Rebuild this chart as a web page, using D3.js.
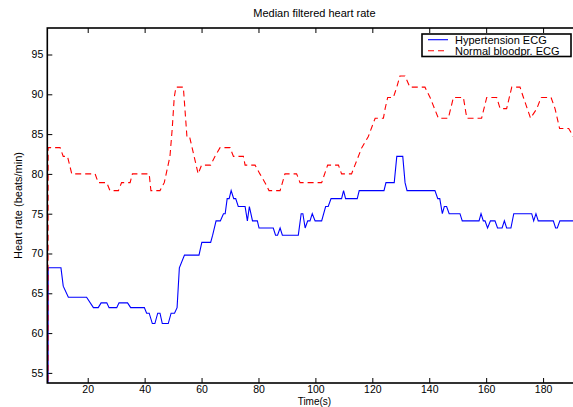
<!DOCTYPE html>
<html>
<head>
<meta charset="utf-8">
<script src="https://cdn.jsdelivr.net/npm/d3@7"></script>
<style>
  html, body { margin: 0; padding: 0; background: #fff; }
  svg { display: block; font-family: "Liberation Sans", Arial, Helvetica, sans-serif; }
</style>
</head>
<body>
<svg id="chart" width="573" height="407"></svg>
<script>
// Median filtered heart rate, two recordings (time in s, rate in beats/min)
const hyperTime = [5.9, 6.1, 10.6, 11.4, 13.2, 19.6, 22.0, 23.7, 24.7, 26.7, 27.5, 30.2, 31.0, 34.0, 35.1, 39.9,
  40.7, 41.6, 42.7, 43.6, 44.6, 45.4, 46.2, 48.3, 49.3, 50.5, 51.4, 52.2, 54.0, 59.1, 60.1, 63.2, 63.9, 65.1,
  66.6, 67.7, 68.3, 69.0, 69.7, 70.4, 71.3, 72.0, 72.9, 75.3, 76.1, 76.8, 77.9, 79.6, 80.2, 85.2, 86.0, 86.7,
  87.6, 88.4, 94.0, 95.0, 95.6, 96.4, 97.3, 98.1, 98.9, 99.9, 102.2, 103.6, 104.5, 105.5, 109.2, 109.9, 110.6,
  114.7, 115.4, 124.1, 124.8, 127.7, 128.6, 130.7, 131.5, 132.2, 142.0, 143.0, 143.7, 144.6, 145.3, 146.1,
  147.0, 150.8, 151.6, 157.5, 158.2, 159.0, 159.6, 160.5, 161.5, 163.1, 164.0, 165.6, 166.4, 167.2, 168.7,
  169.7, 176.0, 176.7, 177.5, 178.3, 183.6, 184.4, 185.0, 185.9, 193.5];
const hyperRate = [0, 68.2, 68.2, 65.9, 64.5, 64.5, 63.2, 63.2, 63.8, 63.8, 63.2, 63.2, 63.8, 63.8, 63.2, 63.2,
  62.5, 62.5, 61.2, 61.2, 62.5, 62.5, 61.2, 61.2, 62.5, 62.5, 63.2, 68.2, 69.8, 69.8, 71.4, 71.4, 72.3, 74.1,
  74.1, 75.0, 75.0, 76.9, 76.9, 77.9, 76.9, 76.9, 75.9, 75.9, 74.1, 75.9, 74.1, 74.1, 73.2, 73.2, 72.3, 72.3,
  73.2, 72.3, 72.3, 75.0, 75.0, 73.2, 74.1, 74.1, 75.0, 74.1, 74.1, 75.9, 75.9, 76.9, 76.9, 77.9, 76.9,
  76.9, 77.9, 77.9, 78.9, 78.9, 82.2, 82.2, 78.9, 77.9, 77.9, 76.9, 76.9, 75.0, 75.9, 75.9,
  75.0, 75.0, 74.1, 74.1, 75.0, 74.1, 74.1, 73.2, 74.1, 74.1, 73.2, 73.2, 74.1, 73.2, 73.2,
  75.0, 75.0, 74.1, 75.0, 74.1, 74.1, 73.2, 73.2, 74.1, 74.1];

const normalTime = [5.9, 6.1, 10.3, 11.4, 12.9, 14.4, 22.6, 23.7, 26.7, 27.8, 30.8, 31.9, 34.9, 35.7, 41.6, 42.2,
  45.4, 46.9, 48.9, 49.7, 50.4, 51.0, 53.6, 54.9, 55.9, 58.8, 60.0, 63.2, 64.7, 66.5, 70.0, 71.2, 74.7, 75.3,
  78.8, 80.5, 82.3, 83.7, 87.6, 89.3, 93.4, 94.6, 102.2, 104.3, 108.1, 109.2, 112.7, 113.9, 116.3, 118.6,
  121.0, 123.9, 124.5, 125.4, 127.4, 128.6, 129.7, 131.5, 133.2, 138.5, 140.3, 143.2, 146.7, 148.5, 152.0,
  153.2, 158.4, 160.2, 163.7, 164.9, 167.2, 169.0, 171.9, 173.1, 175.6, 177.8, 179.3, 182.8, 184.2, 185.8,
  189.0, 190.6, 193.5];
const normalRate = [0, 83.3, 83.3, 82.2, 82.2, 80.0, 80.0, 78.9, 78.9, 77.9, 77.9, 78.9, 78.9, 80.0, 80.0, 77.9,
  77.9, 78.9, 82.2, 85.7, 89.6, 90.9, 90.9, 84.5, 84.5, 80.0, 81.1, 81.1, 82.2, 83.3, 83.3, 82.2, 82.2, 81.1,
  81.1, 80.0, 78.9, 77.9, 77.9, 80.0, 80.0, 78.9, 78.9, 81.1, 81.1, 80.0, 80.0, 81.1, 83.3, 84.7,
  87.0, 87.0, 88.2, 89.6, 89.6, 90.9, 92.3, 92.3, 90.9, 90.9, 89.6, 87.0, 87.0, 89.6, 89.6,
  87.0, 87.0, 89.6, 89.6, 88.2, 88.2, 90.9, 90.9, 89.6, 87.0, 88.2, 89.6, 89.6, 88.2, 85.7,
  85.7, 84.7, 84.7];

const xTicks = [20, 40, 60, 80, 100, 120, 140, 160, 180];
const yTicks = [55, 60, 65, 70, 75, 80, 85, 90, 95];
const seriesNames = ["Hypertension ECG", "Normal bloodpr. ECG"];
const titleText = "Median filtered heart rate";
const xLabelText = "Time(s)";
const yLabelText = "Heart rate (beats/min)";

const svg = d3.select("#chart");
const plot = { left: 47.3, right: 581.5, top: 28, bottom: 383 };
const fontSize = 11;
const tickFont = 10.5;
const tickLen = 5;

const x = d3.scaleLinear().domain([5.8, 193.5]).range([plot.left, plot.right]);
const y = d3.scaleLinear().domain([53.73, 98.33]).range([plot.bottom, plot.top]);

svg.append("rect").attr("width", 573).attr("height", 407).attr("fill", "#fff");

svg.append("defs").append("clipPath").attr("id", "plotClip")
  .append("rect")
  .attr("x", plot.left).attr("y", plot.top)
  .attr("width", plot.right - plot.left).attr("height", plot.bottom - plot.top);

// Axes with inward ticks
const xAxis = d3.axisBottom(x).tickValues(xTicks).tickSizeInner(-tickLen).tickSizeOuter(0).tickPadding(2.5);
const yAxis = d3.axisLeft(y).tickValues(yTicks).tickSizeInner(-tickLen).tickSizeOuter(0).tickPadding(4);
const xAxisTop = d3.axisTop(x).tickValues(xTicks).tickSizeInner(-tickLen).tickSizeOuter(0).tickFormat("");
const yAxisRight = d3.axisRight(y).tickValues(yTicks).tickSizeInner(-tickLen).tickSizeOuter(0).tickFormat("");

function styleAxis(g) {
  g.select(".domain").remove();
  g.selectAll(".tick line").attr("stroke", "#000").attr("stroke-width", 1);
  g.selectAll(".tick text").attr("fill", "#000").style("font-size", tickFont + "px")
    .style("font-family", '"Liberation Sans", Arial, Helvetica, sans-serif');
}

svg.append("g").attr("transform", `translate(0,${plot.bottom})`).call(xAxis).call(styleAxis);
svg.append("g").attr("transform", `translate(${plot.left},0)`).call(yAxis).call(styleAxis);
svg.append("g").attr("transform", `translate(0,${plot.top})`).call(xAxisTop).call(styleAxis);
svg.append("g").attr("transform", `translate(${plot.right},0)`).call(yAxisRight).call(styleAxis);

// Series lines
const line = d3.line().x(d => x(d[0])).y(d => y(d[1]));
const hyper = d3.zip(hyperTime, hyperRate);
const normal = d3.zip(normalTime, normalRate);

const lines = svg.append("g").attr("clip-path", "url(#plotClip)");
lines.append("path").datum(hyper)
  .attr("d", line).attr("fill", "none").attr("stroke", "#0000ff").attr("stroke-width", 1.1);
lines.append("path").datum(normal)
  .attr("d", line).attr("fill", "none").attr("stroke", "#ff0000").attr("stroke-width", 1.1)
  .attr("stroke-dasharray", "6,4");

// Axes frame
svg.append("rect")
  .attr("x", plot.left).attr("y", plot.top)
  .attr("width", plot.right - plot.left).attr("height", plot.bottom - plot.top)
  .attr("fill", "none").attr("stroke", "#000").attr("stroke-width", 1.6);

// Title and axis labels
const cx = (plot.left + plot.right) / 2;
svg.append("text").attr("x", cx).attr("y", 17).attr("text-anchor", "middle")
  .style("font-size", fontSize + "px").text(titleText);
svg.append("text").attr("x", cx).attr("y", 404.5).attr("text-anchor", "middle")
  .style("font-size", "10px").text(xLabelText);
svg.append("text")
  .attr("transform", `translate(22,${(plot.top + plot.bottom) / 2}) rotate(-90)`)
  .attr("text-anchor", "middle").style("font-size", fontSize + "px").text(yLabelText);

// Legend
const legend = { x: 422, y: 34, w: 149, h: 22.5 };
const lg = svg.append("g");
lg.append("rect").attr("x", legend.x).attr("y", legend.y).attr("width", legend.w).attr("height", legend.h)
  .attr("fill", "#fff").attr("stroke", "#000").attr("stroke-width", 1.6);
const legendItems = [
  { name: seriesNames[0], color: "#0000ff", dash: null },
  { name: seriesNames[1], color: "#ff0000", dash: "6,4" }
];
legendItems.forEach((item, i) => {
  const cy = legend.y + 5.7 + i * 11;
  lg.append("line").attr("x1", legend.x + 6).attr("x2", legend.x + 26).attr("y1", cy).attr("y2", cy)
    .attr("stroke", item.color).attr("stroke-width", 1.1)
    .attr("stroke-dasharray", item.dash);
  lg.append("text").attr("x", legend.x + 33).attr("y", cy + 3.8)
    .style("font-size", fontSize + "px").text(item.name);
});
</script>
</body>
</html>
